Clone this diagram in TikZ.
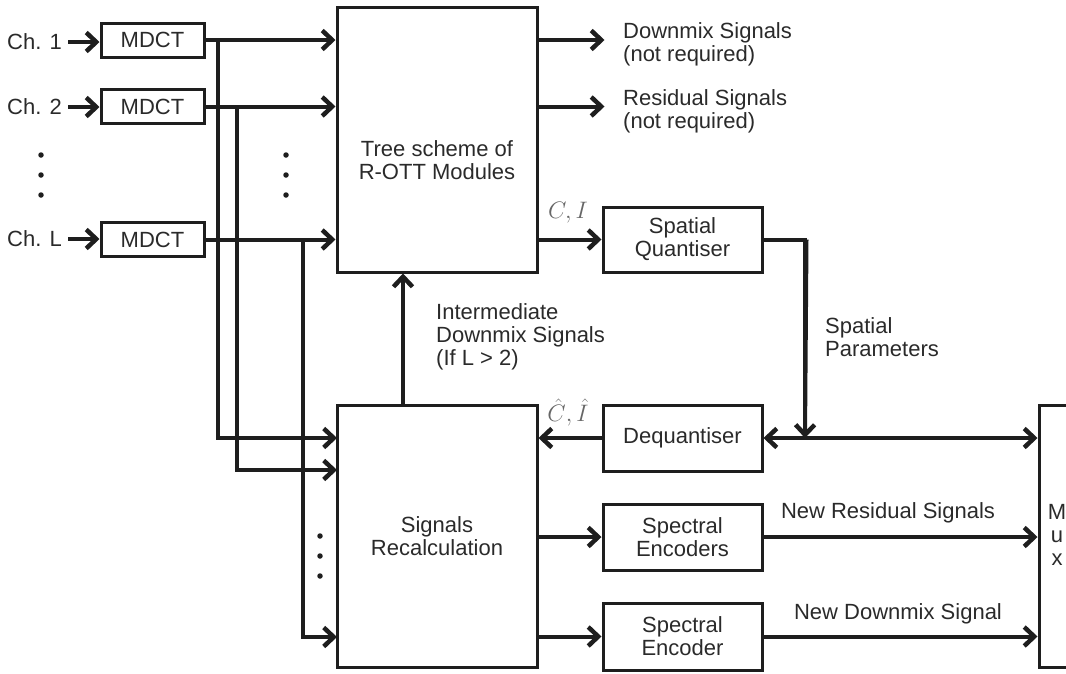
\documentclass[tikz,border=0pt]{standalone}
\usepackage{fontspec}
\setmainfont{Liberation Sans}
\usetikzlibrary{arrows.meta,calc}
\definecolor{ink}{HTML}{1E1E1E}
\definecolor{txt}{HTML}{2A2A2A}
\begin{document}
\begin{tikzpicture}[x=1pt,y=-1pt,
  every node/.style={font=\fontsize{22}{23}\selectfont, text=txt},
  blk/.style={draw=ink, line width=3pt, rectangle, inner sep=0pt, align=center},
  tip/.style={},
  arr/.style={draw=ink, line width=4pt, -{Straight Barb[length=10pt,width=19pt,line width=4.5pt]}},
  arrtwo/.style={draw=ink, line width=4pt, {Straight Barb[length=10pt,width=19pt,line width=4.5pt]}-{Straight Barb[length=10pt,width=19pt,line width=4.5pt]}},
  ln/.style={draw=ink, line width=4pt},
  lbl/.style={align=left, inner sep=0pt},
  mlbl/.style={text=black!60, inner sep=0pt, scale=1.15},
  dot/.style={circle, fill=ink, inner sep=0pt, minimum size=5.5pt}]
\useasboundingbox (0,0) rectangle (1066,673);
\clip (0,0) rectangle (1066,673);

% MDCT blocks
\node[blk, minimum width=103pt, minimum height=34pt] (m1) at (152.5,40) {MDCT};
\node[blk, minimum width=103pt, minimum height=34pt] (m2) at (152.5,106.5) {MDCT};
\node[blk, minimum width=103pt, minimum height=34pt] (mL) at (152.5,239.5) {MDCT};

% channel labels
\node[anchor=east, inner sep=0pt] (c1) at (62,42) {Ch. 1};
\node[anchor=east, inner sep=0pt] (c2) at (62,107) {Ch. 2};
\node[anchor=east, inner sep=0pt] (cL) at (62,239) {Ch. L};
\draw[arr] (c1.east) ++(6,0) -- (m1.west |- c1.east);
\draw[arr] (c2.east) ++(6,0) -- (m2.west |- c2.east);
\draw[arr] (cL.east) ++(6,0) -- (mL.west |- cL.east);

% big blocks
\node[blk, minimum width=200pt, minimum height=265pt] (tree) at (437,139.5) {};
\node[align=center] (treet) at (437,160) {Tree scheme of\\R-OTT Modules};
\node[blk, minimum width=200pt, minimum height=262pt] (sr) at (437,536) {Signals\\Recalculation};

% right blocks
\node[blk, minimum width=159pt, minimum height=65pt] (sq) at (682.5,239.5) {Spatial\\Quantiser};
\node[blk, minimum width=159pt, minimum height=66pt] (dq) at (682.5,438) {Dequantiser};
\node[blk, minimum width=159pt, minimum height=66pt] (se1) at (682.5,537) {Spectral\\Encoders};
\node[blk, minimum width=159pt, minimum height=67pt] (se2) at (682.5,636.5) {Spectral\\Encoder};
\node[blk, minimum width=40pt, minimum height=262pt] (mux) at (1059,536) {};
\node[align=center, inner sep=0pt] (muxt) at (1057,535) {M\\u\\x};

% dots
\foreach \yy in {155,175,195} {
  \node[dot] at (41,\yy) {};
  \node[dot] at (286,\yy) {};
}
\foreach \yy in {536,556,576} {
  \node[dot] at (320,\yy) {};
}

% MDCT -> tree
\draw[arr] (m1.east) -- (tree.west |- m1.east);
\draw[arr] (m2.east) -- (tree.west |- m2.east);
\draw[arr] (mL.east) -- (tree.west |- mL.east);

% bus lines to signals recalculation
\coordinate (j1) at (218,40);
\coordinate (j2) at (237,106.5);
\coordinate (j3) at (303,239.5);
\coordinate (r1) at (337,438);
\coordinate (r2) at (337,470);
\coordinate (r3) at (337,637);
\draw[arr] (j1) |- (r1);
\draw[arr] (j2) |- (r2);
\draw[arr] (j3) |- (r3);

% intermediate
\draw[arr] ([xshift=-34pt]sr.north) -- ([xshift=-34pt]tree.south);
\node[lbl, anchor=north west] (iml) at (436,303) {Intermediate\\Downmix Signals\\(If L > 2)};

% tree outputs
\draw[arr] (tree.east |- m1.east) -- ++(66,0) coordinate (o1);
\draw[arr] (tree.east |- m2.east) -- ++(66,0) coordinate (o2);
\node[lbl, anchor=north west] (dml) at (623,22) {Downmix Signals\\(not required)};
\node[lbl, anchor=north west] (rsl) at (623,89) {Residual Signals\\(not required)};

\draw[arr] (tree.east |- sq.west) -- (sq.west);
\node[mlbl] (cil) at (568,213) {$C,I$};

% quantiser to dequantiser/mux
\coordinate (jn) at (805,438);
\draw[ln] (sq.east) -| ($(jn)+(0,-20)$);
\draw[arr] ($(sq.east)+(43,0)$) -- (jn);
\node[lbl, anchor=north west] (spl) at (825,317) {Spatial\\Parameters};
\draw[arrtwo] (dq.east) -- (mux.west |- dq.east);

\draw[arr] (dq.west) -- (sr.east |- dq.west);
\node[mlbl] (cih) at (568,413) {$\hat{C},\hat{I}$};

\draw[arr] (sr.east |- se1.west) -- (se1.west);
\draw[arr] (sr.east |- se2.west) -- (se2.west);
\draw[arr] (se1.east) -- (mux.west |- se1.east);
\draw[arr] (se2.east) -- (mux.west |- se2.east);
\node (nrl) at (888,513) {New Residual Signals};
\node (ndl) at (898,614) {New Downmix Signal};
\end{tikzpicture}
\end{document}
